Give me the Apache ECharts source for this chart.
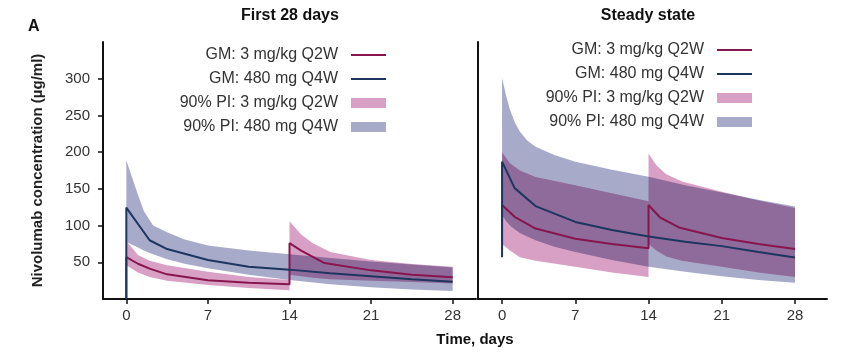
<!DOCTYPE html>
<html>
<head>
<meta charset="utf-8">
<script src="https://cdn.jsdelivr.net/npm/echarts@6/dist/echarts.min.js"></script>
<style>html,body{margin:0;padding:0;background:#fff}#c{width:861px;height:356px}</style>
</head>
<body>
<div id="c"></div>
<script>
const xTicks = [0, 7, 14, 21, 28];
const yTicks = [50, 100, 150, 200, 250, 300];

const NAME_GM3 = 'GM: 3 mg/kg Q2W';
const NAME_GM480 = 'GM: 480 mg Q4W';
const NAME_PI3 = '90% PI: 3 mg/kg Q2W';
const NAME_PI480 = '90% PI: 480 mg Q4W';

// ---- First 28 days ----
const f_gm3_t = [0, 0, 1, 2, 3.5, 7, 10.5, 14, 14, 15, 17, 21, 24.5, 28];
const f_gm3_v = [0, 57, 48, 41.4, 33.6, 25.4, 22, 20, 76, 66, 49, 39, 33, 29.5];
const f_gm480_t = [0, 0, 2, 3.5, 7, 10.5, 14, 17.5, 21, 24.5, 28];
const f_gm480_v = [0, 124.5, 80, 68, 53, 44, 40, 35, 31, 27, 23.5];
const f_pi480_t = [0, 0.5, 1, 1.5, 2.3, 3.5, 5, 7, 10.5, 14, 17.5, 21, 24.5, 28];
const f_pi480_lo = [78, 74, 70, 66, 61, 54, 48, 42, 33, 26, 20, 16, 13, 11];
const f_pi480_hi = [189, 165, 142, 120, 100, 91, 81, 73, 66, 61, 56, 51, 47, 43];
const f_pi3a_t = [0, 1, 2, 3.5, 7, 10.5, 14];
const f_pi3a_lo = [46, 36, 30, 25, 19, 15, 12];
const f_pi3a_hi = [79, 60, 52, 46, 37, 30, 26];
const f_pi3b_t = [14, 15, 16, 17.5, 21, 24.5, 28];
const f_pi3b_lo = [33, 31, 29, 27, 25, 23, 21];
const f_pi3b_hi = [106, 88, 76, 64, 53, 47.5, 44];

// ---- Steady state ----
const s_gm3_t = [0, 0, 1.2, 3.2, 7, 10.5, 14, 14, 15.1, 17, 21, 24.5, 28];
const s_gm3_v = [68, 128, 112, 96, 82, 75, 69, 128, 111, 97, 83, 75, 68];
const s_gm480_t = [0, 0, 1.2, 3.2, 7, 10.5, 14, 17.5, 21, 24.5, 28];
const s_gm480_v = [57, 187, 151, 126.5, 105, 94, 85, 78, 72, 64, 56.4];
const s_pi480_t = [0, 0.4, 0.75, 1.2, 1.7, 2.4, 3.2, 5, 7, 10.5, 14, 17.5, 21, 24.5, 28];
const s_pi480_lo = [114, 106, 100, 95, 90, 85, 80, 71, 64, 53, 44, 37, 31, 26, 22];
const s_pi480_hi = [301, 276, 258, 241, 228, 216, 207.5, 196, 187, 176, 166.5, 155, 145, 135, 126];
const s_pi3a_t = [0, 0.75, 1.7, 3.2, 7, 10.5, 14];
const s_pi3a_lo = [75, 66, 57, 52, 44, 36, 30];
const s_pi3a_hi = [200, 185, 175, 166, 155, 144, 133];
const s_pi3b_t = [14, 14.75, 15.7, 17.2, 21, 24.5, 28];
const s_pi3b_lo = [75, 66, 58, 52, 44, 36, 30];
const s_pi3b_hi = [198, 182, 170, 160, 146, 134, 124];

const C_GM3 = '#87164f';
const C_GM480 = '#1e3560';
const C_PI3 = '#d8a0c4';
const C_PI480 = '#a8aaca';
const FONT = '"Liberation Sans", Arial, Helvetica, sans-serif';

function zip(t, v) { return t.map((x, i) => [x, v[i]]); }

function lineSeries(name, idx, t, v, color) {
  return {
    type: 'line', name, xAxisIndex: idx, yAxisIndex: idx,
    data: zip(t, v), symbol: 'none', showSymbol: false,
    lineStyle: { color, width: 2 }, itemStyle: { color },
    silent: true, z: 5
  };
}

function bandSeries(name, idx, segs, color) {
  return {
    type: 'custom', name, xAxisIndex: idx, yAxisIndex: idx,
    blendMode: 'multiply', silent: true, z: 2,
    itemStyle: { color },
    data: segs.map(s => [s.t[0], s.hi[0]]),
    renderItem: function (params, api) {
      const s = segs[params.dataIndex];
      const pts = [];
      for (let i = 0; i < s.t.length; i++) pts.push(api.coord([s.t[i], s.hi[i]]));
      for (let i = s.t.length - 1; i >= 0; i--) pts.push(api.coord([s.t[i], s.lo[i]]));
      return { type: 'polygon', shape: { points: pts }, style: { fill: color } };
    }
  };
}

function xAxisCfg(idx, min, max) {
  return {
    type: 'value', gridIndex: idx, min, max,
    axisLine: { show: true, onZero: false, lineStyle: { color: '#111', width: 2 } },
    axisTick: { show: true, customValues: xTicks, length: 5, lineStyle: { color: '#111', width: 1.5 } },
    axisLabel: { customValues: xTicks, fontSize: 15, color: '#333', margin: 9, fontFamily: FONT },
    splitLine: { show: false }
  };
}

function legendCfg(rightPx, topPx, h, items) {
  return {
    orient: 'vertical', right: rightPx, top: topPx, align: 'right',
    itemWidth: 35, itemHeight: h, itemGap: 8, padding: 0,
    selectedMode: false,
    textStyle: { fontSize: 16, color: '#333', lineHeight: 16, fontFamily: FONT, padding: [0, 8, 0, 0] },
    data: items
  };
}
const lineItems = [
  { name: NAME_GM3, icon: 'rect', itemStyle: { color: C_GM3 } },
  { name: NAME_GM480, icon: 'rect', itemStyle: { color: C_GM480 } }
];
const bandItems = [
  { name: NAME_PI3, icon: 'rect', itemStyle: { color: C_PI3 } },
  { name: NAME_PI480, icon: 'rect', itemStyle: { color: C_PI480 } }
];

const option = {
  animation: false,
  backgroundColor: '#fff',
  textStyle: { fontFamily: FONT },
  grid: [
    { left: 103, top: 42, width: 373, height: 257 },
    { left: 478, top: 42, width: 349, height: 257 }
  ],
  xAxis: [xAxisCfg(0, -2, 30), xAxisCfg(1, -2.3, 31.06)],
  yAxis: [
    {
      type: 'value', gridIndex: 0, min: 0, max: 350,
      name: 'Nivolumab concentration (µg/ml)', nameLocation: 'middle', nameGap: 58,
      nameTextStyle: { fontSize: 15, fontWeight: 'bold', color: '#222', fontFamily: FONT },
      axisLine: { show: true, onZero: false, lineStyle: { color: '#111', width: 2 } },
      axisTick: { show: true, customValues: yTicks, length: 5, lineStyle: { color: '#111', width: 1.5 } },
      axisLabel: { customValues: yTicks, fontSize: 15, color: '#333', margin: 13, fontFamily: FONT },
      splitLine: { show: false }
    },
    {
      type: 'value', gridIndex: 1, min: 0, max: 350,
      axisLine: { show: true, onZero: false, lineStyle: { color: '#111', width: 2 } },
      axisTick: { show: false }, axisLabel: { show: false }, splitLine: { show: false }
    }
  ],
  legend: [
    legendCfg(475, 47, 2, lineItems), legendCfg(475, 95, 10, bandItems),
    legendCfg(109, 42, 2, lineItems), legendCfg(109, 90, 10, bandItems)
  ],
  graphic: [
    { type: 'text', x: 28, y: 27, style: { text: 'A', font: 'bold 16px ' + FONT, fill: '#111', textVerticalAlign: 'middle' } },
    { type: 'text', x: 290, y: 16, style: { text: 'First 28 days', font: 'bold 16px ' + FONT, fill: '#111', textAlign: 'center', textVerticalAlign: 'middle' } },
    { type: 'text', x: 648, y: 16, style: { text: 'Steady state', font: 'bold 16px ' + FONT, fill: '#111', textAlign: 'center', textVerticalAlign: 'middle' } },
    { type: 'text', x: 475, y: 340, style: { text: 'Time, days', font: 'bold 15px ' + FONT, fill: '#111', textAlign: 'center', textVerticalAlign: 'middle' } }
  ],
  series: [
    bandSeries(NAME_PI480, 0, [{ t: f_pi480_t, lo: f_pi480_lo, hi: f_pi480_hi }], C_PI480),
    bandSeries(NAME_PI3, 0, [{ t: f_pi3a_t, lo: f_pi3a_lo, hi: f_pi3a_hi }, { t: f_pi3b_t, lo: f_pi3b_lo, hi: f_pi3b_hi }], C_PI3),
    lineSeries(NAME_GM3, 0, f_gm3_t, f_gm3_v, C_GM3),
    lineSeries(NAME_GM480, 0, f_gm480_t, f_gm480_v, C_GM480),
    bandSeries(NAME_PI480, 1, [{ t: s_pi480_t, lo: s_pi480_lo, hi: s_pi480_hi }], C_PI480),
    bandSeries(NAME_PI3, 1, [{ t: s_pi3a_t, lo: s_pi3a_lo, hi: s_pi3a_hi }, { t: s_pi3b_t, lo: s_pi3b_lo, hi: s_pi3b_hi }], C_PI3),
    lineSeries(NAME_GM3, 1, s_gm3_t, s_gm3_v, C_GM3),
    lineSeries(NAME_GM480, 1, s_gm480_t, s_gm480_v, C_GM480)
  ]
};

const chart = echarts.init(document.getElementById('c'), null, { renderer: 'canvas' });
chart.setOption(option);
</script>
</body>
</html>
